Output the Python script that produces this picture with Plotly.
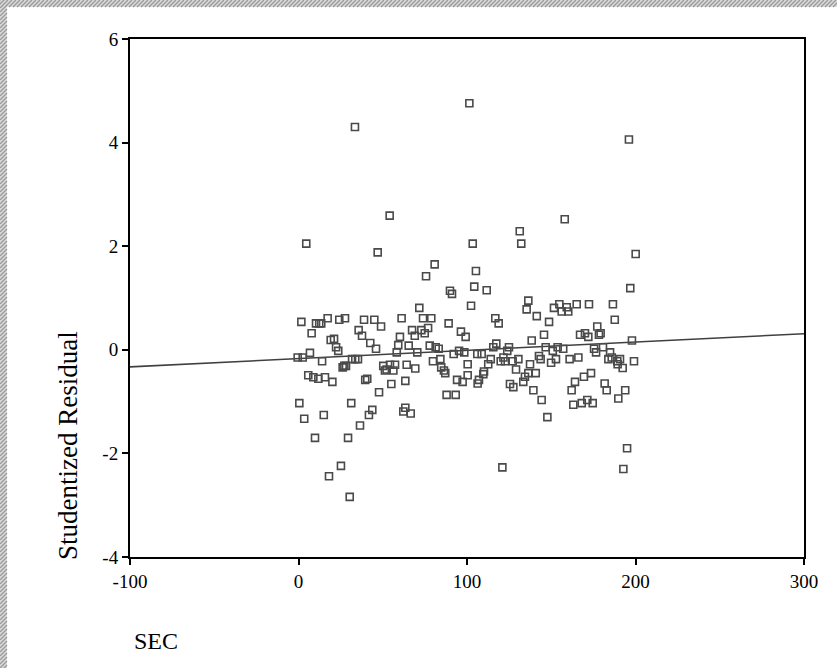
import plotly.graph_objects as go

# ---------------- data ----------------
sec = [
    33.5, 101.4, 196.1, 54.1, 4.6, 47.0, 103.4, 80.8, 75.7, 105.3, 158.0, 131.3, 132.2, 200.1,
    104.3, 89.9, 91.1, 71.7, 102.4, 1.7, 10.4, 12.3, 13.5, 17.3, 24.2, 27.6, 38.9, 45.0, 49.0,
    61.2, 73.9, 78.8, 89.1, 7.8, 35.7, 37.7, 67.4, 69.0, 72.9, 76.9, 74.9, 60.2, 96.4, 99.2,
    19.1, 21.1, 22.3, 23.6, 42.6, 46.0, 59.2, 58.3, 65.4, 70.5, 77.9, 81.4, 83.2, 92.1, 95.3,
    98.4, 106.1, -0.5, 2.5, 6.8, 14.0, 31.8, 33.7, 35.3, 27.2, 28.2, 26.2, 50.3, 52.3, 54.3,
    57.3, 51.3, 56.3, 64.2, 69.3, 79.8, 84.2, 84.7, 86.3, 87.1, 100.4, 5.8, 8.8, 11.8, 15.7,
    20.1, 39.6, 40.8, 55.1, 63.4, 47.8, 94.1, 97.4, 100.4, 106.3, 87.9, 93.3,
    0.5, 3.4, 15.0, 31.3, 43.8, 41.8, 36.5, 9.8, 29.4, 63.4, 62.2, 66.6, 25.2, 18.1, 30.4,
    111.7, 196.9, 136.4, 135.4, 151.6, 154.8, 156.2, 159.2, 160.1, 165.1, 172.4, 186.6, 187.7,
    116.8, 118.8, 141.4, 148.7, 177.3, 179.3, 178.3, 167.1, 170.0, 172.0, 145.7, 138.4, 197.9,
    117.4, 115.6, 124.9, 123.9, 146.7, 150.9, 153.8, 157.1, 175.4, 176.6, 180.7, 184.9, 183.9,
    185.9, 189.2, 190.8, 192.4, 189.4, 199.1, 108.7, 114.1, 112.6, 121.6, 122.6, 127.1, 130.5,
    120.0, 142.7, 143.7, 152.8, 149.9, 160.9, 166.1, 137.4, 129.1, 110.1, 109.7, 136.4, 140.8,
    134.4, 133.4, 173.6, 169.4, 164.1, 107.1, 125.5, 127.5, 139.4, 162.1, 181.7, 182.9,
    193.9, 189.8, 144.3, 171.4,
    147.7, 163.1, 168.1, 174.6, 195.0, 192.8, 121.0,
]
residual = [
    4.30, 4.76, 4.06, 2.59, 2.05, 1.88, 2.05, 1.65, 1.42, 1.52, 2.52, 2.29, 2.05, 1.85,
    1.22, 1.14, 1.08, 0.81, 0.85, 0.54, 0.51, 0.51, 0.51, 0.61, 0.58, 0.61, 0.58, 0.58, 0.45,
    0.61, 0.61, 0.61, 0.51, 0.32, 0.38, 0.27, 0.38, 0.27, 0.38, 0.42, 0.32, 0.25, 0.35, 0.25,
    0.19, 0.21, 0.05, -0.02, 0.13, 0.02, 0.09, -0.05, 0.08, -0.05, 0.08, 0.05, 0.02, -0.08, -0.02,
    -0.05, -0.08, -0.15, -0.15, -0.06, -0.22, -0.18, -0.18, -0.18, -0.31, -0.31, -0.34, -0.31, -0.38, -0.29,
    -0.29, -0.40, -0.40, -0.29, -0.36, -0.22, -0.18, -0.34, -0.40, -0.45, -0.28, -0.49, -0.53, -0.56, -0.53,
    -0.62, -0.58, -0.56, -0.66, -0.60, -0.82, -0.58, -0.62, -0.49, -0.65, -0.87, -0.87,
    -1.03, -1.33, -1.26, -1.03, -1.16, -1.26, -1.46, -1.70, -1.70, -1.12, -1.19, -1.23, -2.24, -2.44, -2.84,
    1.15, 1.19, 0.95, 0.78, 0.81, 0.88, 0.74, 0.82, 0.74, 0.88, 0.88, 0.88, 0.58,
    0.61, 0.51, 0.65, 0.54, 0.45, 0.32, 0.29, 0.29, 0.32, 0.25, 0.29, 0.18, 0.18,
    0.12, 0.05, 0.05, -0.02, 0.05, -0.02, 0.05, 0.02, 0.02, -0.05, 0.05, -0.05, -0.18,
    -0.15, -0.22, -0.18, -0.35, -0.28, -0.22, -0.08, -0.18, -0.28, -0.15, -0.22, -0.22, -0.18,
    -0.22, -0.12, -0.18, -0.18, -0.25, -0.18, -0.15, -0.28, -0.38, -0.42, -0.47, -0.45, -0.45,
    -0.52, -0.62, -0.45, -0.52, -0.62, -0.58, -0.66, -0.72, -0.78, -0.78, -0.65, -0.78,
    -0.78, -0.94, -0.97, -0.97,
    -1.30, -1.06, -1.03, -1.03, -1.90, -2.30, -2.27,
]

fit_x = [-100, 300]
fit_y = [-0.33, 0.31]

x_ticks = [-100, 0, 100, 200, 300]
y_ticks = [-4, -2, 0, 2, 4, 6]

# ---------------- figure ----------------
W, H = 837, 668
px_x = lambda p: p / W
px_y = lambda p: 1 - p / H

fig = go.Figure()
fig.add_trace(go.Scatter(
    x=fit_x, y=fit_y, mode="lines",
    line=dict(color="#404040", width=1.6),
    hoverinfo="skip", showlegend=False,
))
fig.add_trace(go.Scatter(
    x=sec, y=residual, mode="markers",
    marker=dict(symbol="square-open", size=7, color="#4a4a4a", line=dict(width=1.6, color="#4a4a4a")),
    showlegend=False,
))

FONT = "Liberation Serif, Times New Roman, serif"

axis_common = dict(
    showline=True, linecolor="black", linewidth=2, mirror=True,
    ticks="outside", ticklen=6, tickwidth=1.5, tickcolor="black",
    showgrid=False, zeroline=False, automargin=False,
    tickfont=dict(family=FONT, size=19, color="black"),
)

fig.update_xaxes(range=[-100, 300], tickvals=x_ticks, ticktext=[str(v) for v in x_ticks],
                 domain=[px_x(130), px_x(804)], **axis_common)
fig.update_yaxes(range=[-4, 6], tickvals=y_ticks, ticktext=[str(v) for v in y_ticks],
                 domain=[px_y(557), px_y(39)], **axis_common)

# hatched border (left & top edges of the picture)
B = 7
segs = []
for x0 in range(-B, W, 4):
    segs.append(f"M {px_x(x0):.5f} {px_y(B):.5f} L {px_x(x0 + B):.5f} {px_y(0):.5f}")
for y0 in range(0, H + B, 4):
    segs.append(f"M {px_x(0):.5f} {px_y(y0):.5f} L {px_x(B):.5f} {px_y(y0 - B):.5f}")

shapes = [
    dict(type="rect", xref="paper", yref="paper", x0=0, x1=1, y0=px_y(B), y1=1,
         fillcolor="#dcdcdc", line=dict(width=0), layer="below"),
    dict(type="rect", xref="paper", yref="paper", x0=0, x1=px_x(B), y0=0, y1=1,
         fillcolor="#dcdcdc", line=dict(width=0), layer="below"),
    dict(type="path", xref="paper", yref="paper", path=" ".join(segs),
         line=dict(color="#9a9a9a", width=1.4), layer="below"),
]

fig.update_layout(
    width=W, height=H,
    margin=dict(l=0, r=0, t=0, b=0, pad=0, autoexpand=False),
    paper_bgcolor="white", plot_bgcolor="white",
    shapes=shapes,
    annotations=[
        dict(text="Studentized Residual", textangle=-90, xref="paper", yref="paper",
             x=px_x(68), y=px_y(446), xanchor="center", yanchor="middle", showarrow=False,
             font=dict(family=FONT, size=27, color="black")),
        dict(text="SEC", xref="paper", yref="paper",
             x=px_x(132), y=px_y(641), xanchor="left", yanchor="middle", showarrow=False,
             font=dict(family=FONT, size=24, color="black")),
    ],
)

fig.write_html(
    "out.html",
    config={"displayModeBar": False},
    post_script="document.body.style.margin='0';document.body.style.overflow='hidden';",
)
